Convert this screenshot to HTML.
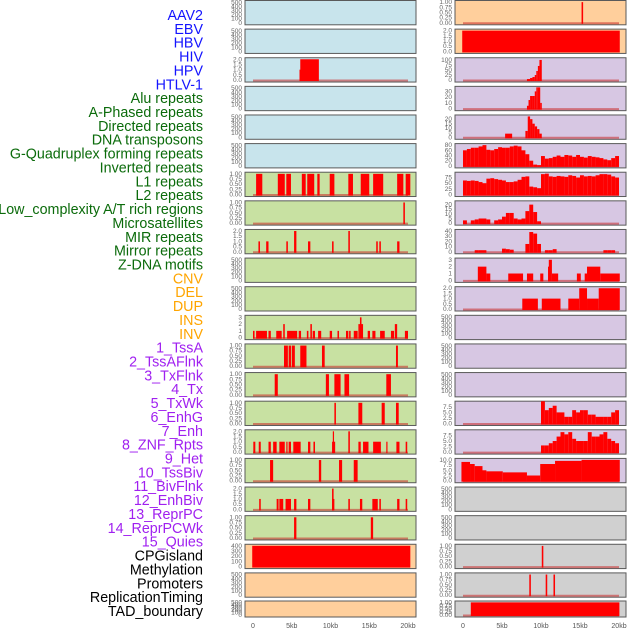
<!DOCTYPE html>
<html><head><meta charset="utf-8">
<style>
html,body{margin:0;padding:0;background:#fff;}
svg{display:block;font-family:"Liberation Sans",sans-serif;}
</style></head>
<body>
<svg id="chart" width="630" height="630" viewBox="0 0 630 630" xmlns="http://www.w3.org/2000/svg"></svg>
<script>
// ---------- data ----------
const labels = ["AAV2","EBV","HBV","HIV","HPV","HTLV-1","Alu repeats","A-Phased repeats","Directed repeats","DNA transposons","G-Quadruplex forming repeats","Inverted repeats","L1 repeats","L2 repeats","Low_complexity A/T rich regions","Microsatellites","MIR repeats","Mirror repeats","Z-DNA motifs","CNV","DEL","DUP","INS","INV","1_TssA","2_TssAFlnk","3_TxFlnk","4_Tx","5_TxWk","6_EnhG","7_Enh","8_ZNF_Rpts","9_Het","10_TssBiv","11_BivFlnk","12_EnhBiv","13_ReprPC","14_ReprPCWk","15_Quies","CPGisland","Methylation","Promoters","ReplicationTiming","TAD_boundary"];
const labelGroups = [6,13,5,15,5];
const groupColors = ["#1414ff","#0b6b0b","#ffa500","#a020f0","#000000"];

const xTickLabels = ["0","5kb","10kb","15kb","20kb"];
const xTickValues = [0,5,10,15,20];

const T500 = ["0","100","200","300","400","500"];
const T1 = ["0.00","0.25","0.50","0.75","1.00"];
const T2 = ["0.0","0.5","1.0","1.5","2.0"];

// segment data [startKb, endKb, value]
const segHBV = [[6.0,6.1,1],[6.1,8.5,2]];
const segL6 = [[0.4,1.2,1],[3.2,4.1,1],[4.3,4.9,1],[6.3,6.8,1],[7.0,7.9,1],[8.3,8.6,1],[9.9,10.5,1],[12.3,12.9,1],[13.9,15.0,1],[15.5,16.8,1],[18.6,19.4,1],[19.7,20.3,1]];
const segL7 = [[19.4,19.6,1]];
const segL8 = [[0.7,0.9,1],[1.7,2.0,1],[4.3,4.5,1],[5.3,5.6,2],[7.1,7.4,1],[10.2,10.4,1],[12.3,12.5,2],[15.9,16.1,1],[16.3,16.5,1],[18.6,18.9,1]];
const segL11 = [[0,0.2,1],[0.4,1.8,1],[2.0,2.3,1],[3.0,3.7,1],[3.9,4.1,2],[4.4,5.7,1],[5.9,6.2,1],[6.95,7.15,1],[7.4,7.6,2],[7.7,8.0,1],[8.4,8.8,1],[9.9,10.2,1],[10.9,11.1,1],[12.0,12.3,1],[12.4,12.6,1],[13.0,13.5,1],[13.6,13.8,2],[13.8,14.0,3],[14.0,14.2,2],[14.8,15.1,1],[15.4,15.8,1],[16.4,17.0,1],[17.8,18.2,1],[18.3,18.6,2],[19.6,20.0,1]];
const segL12 = [[4.0,4.5,1],[4.6,4.9,1],[5.0,5.4,1],[6.1,6.9,1],[8.9,9.25,1],[18.45,18.7,1]];
const segL13 = [[2.8,3.2,1],[9.4,9.8,1],[10.5,11.3,1],[11.8,12.4,1],[17.2,17.8,1]];
const segL14 = [[10.5,10.7,1],[13.6,14.1,1],[16.6,17.0,1],[18.45,18.8,1]];
const segL15 = [[0.04,0.3,1],[0.74,1.0,1],[2.0,2.3,1],[2.6,3.05,1],[3.4,4.1,1],[4.3,4.4,1],[4.6,4.9,1],[5.2,6.15,1],[7.1,7.4,1],[7.8,8.0,1],[10.2,10.6,1],[10.3,10.4,2],[12.3,12.5,2],[13.6,13.9,1],[14.2,14.9,1],[15.5,16.5,1],[17.2,17.3,1],[18.5,18.9,1],[19.7,19.9,1]];
const segL16 = [[2.2,2.6,1],[8.5,8.8,1],[11.1,11.5,1],[13.0,13.5,1]];
const segL17 = [[0.8,1.0,1],[3.05,3.3,1],[3.4,3.9,1],[4.2,4.9,1],[5.3,5.6,1],[7.1,7.4,1],[10.2,10.5,1],[10.2,10.4,2],[12.3,12.5,1],[13.8,14.1,1],[15.4,16.1,1],[16.3,16.5,1],[18.6,18.9,1],[19.7,19.9,1]];
const segL18 = [[5.3,5.6,1],[15.2,15.5,1]];
const segCNV = [[-0.1,20.3,400]];
const segINS = [[15.2,15.4,1]];
const segINV = [[-0.1,20.1,2]];
const segR2 = [[8.2,8.6,5],[8.6,8.9,10],[8.9,9.2,15],[9.2,9.4,25],[9.4,9.6,45],[9.6,9.8,70],[9.8,10.1,100]];
const segR3 = [[8.2,8.4,5],[8.4,8.6,15],[8.6,8.9,22],[8.9,9.2,22],[9.2,9.4,30],[9.4,9.6,37],[9.6,9.9,37],[9.9,10.1,10]];
const segR4 = [[5.4,6.3,4],[8.0,8.3,7],[8.3,8.6,23],[8.6,8.9,20],[8.9,9.2,15],[9.2,9.5,12],[9.5,9.8,9],[9.8,10.1,4]];
const segR9 = [[1.9,3.0,2],[3.0,3.5,1],[5.8,7.7,1],[8.2,9.0,1],[9.9,10.3,1],[10.9,11.0,2],[11.0,11.4,3],[11.4,12.2,1],[14.6,15.1,1],[15.6,15.9,1],[15.9,17.6,2],[17.6,20.1,1]];
const segR10 = [[7.6,9.6,1],[10.1,12.5,1],[13.5,14.9,1],[14.9,15.9,2],[15.9,17.4,1],[17.4,20.1,2]];
const segR16 = [[-0.2,0.9,9],[0.9,1.5,8],[1.5,2.5,7],[2.5,3.0,5],[3.0,5.1,4.5],[5.1,8.2,4],[8.2,9.9,2.5],[9.9,11.8,8],[11.8,15.2,9.5],[15.2,20.1,10]];
const segR19 = [[10.1,10.3,1]];
const segR20 = [[8.5,8.7,1],[10.6,10.8,1],[11.6,11.8,1]];
const segR21 = [[1.0,20.05,1]];

// binned data (0.5 kb bins starting at 0 kb)
const binR5 = [60,65,70,70,75,80,62,60,65,72,70,70,75,78,75,60,45,20,5,3,38,28,30,35,40,35,42,40,35,42,35,32,38,35,33,30,25,22,30,38];
const binR6 = [62,60,62,60,55,50,70,72,68,65,62,55,55,58,65,78,80,35,32,28,90,92,80,78,82,80,78,85,82,75,85,80,82,80,85,90,90,88,80,75];
const binR7 = [3,0,3,4,5,5,4,0,3,4,7,11,11,5,4,5,13,20,12,2,0,0,0,0,0,0,0,0,0,0,0,0,0,0,0,0,0,0,0,0];
const binR8 = [0,0,0,3,3,3,0,0,0,0,6,5,4,0,0,0,15,38,35,15,0,3,3,5,0,0,0,0,0,0,0,0,0,0,0,0,3,3,3,0];
const binR14 = [0,0,0,0,0,0,0,0,0,0,0,0,0,0,0,0,0,0,0,0,10,6,7,8,5,5,3,3,6,5,6,6,4,4,3,3,3,3,5,6];
const binR15 = [0,0,0,0,0,0,0,0,0,0,0,0,0,0,0,0,0,0,0,0,3,3,4,5,7,9,8,9,6,5,5,5,9,7,7,8,9,6,5,4];

// ---------- layout ----------
const BG = {blue:"#c8e4ec", green:"#c8e1a2", orange:"#ffcf9c", purple:"#d7c7e3", gray:"#d0d0d0"};
const tracks = [
 {c:0,r:0,bg:"blue",t:T500,tm:500,dm:520},
 {c:0,r:1,bg:"blue",t:T500,tm:500,dm:520},
 {c:0,r:2,bg:"blue",t:T2,tm:2,dm:2.05,s:segHBV},
 {c:0,r:3,bg:"blue",t:T500,tm:500,dm:520},
 {c:0,r:4,bg:"blue",t:T500,tm:500,dm:520},
 {c:0,r:5,bg:"blue",t:T500,tm:500,dm:520},
 {c:0,r:6,bg:"green",t:T1,tm:1,dm:1.03,s:segL6},
 {c:0,r:7,bg:"green",t:T1,tm:1,dm:1.03,s:segL7},
 {c:0,r:8,bg:"green",t:T2,tm:2,dm:2.05,s:segL8},
 {c:0,r:9,bg:"green",t:T500,tm:500,dm:520},
 {c:0,r:10,bg:"green",t:T500,tm:500,dm:520},
 {c:0,r:11,bg:"green",t:["0","1","2","3"],tm:3,dm:3.15,s:segL11},
 {c:0,r:12,bg:"green",t:T1,tm:1,dm:1.03,s:segL12},
 {c:0,r:13,bg:"green",t:T1,tm:1,dm:1.03,s:segL13},
 {c:0,r:14,bg:"green",t:T1,tm:1,dm:1.03,s:segL14},
 {c:0,r:15,bg:"green",t:T2,tm:2,dm:2.05,s:segL15},
 {c:0,r:16,bg:"green",t:T1,tm:1,dm:1.03,s:segL16},
 {c:0,r:17,bg:"green",t:T2,tm:2,dm:2.05,s:segL17},
 {c:0,r:18,bg:"green",t:T1,tm:1,dm:1.03,s:segL18},
 {c:0,r:19,bg:"orange",t:["0","100","200","300","400"],tm:400,dm:410,s:segCNV,nb:1},
 {c:0,r:20,bg:"orange",t:T500,tm:500,dm:520},
 {c:0,r:21,bg:"orange",t:T500,tm:500,dm:520},
 {c:1,r:0,bg:"orange",t:T1,tm:1,dm:1.03,s:segINS},
 {c:1,r:1,bg:"orange",t:T2,tm:2,dm:2.05,s:segINV,nb:1},
 {c:1,r:2,bg:"purple",t:["0","25","50","75","100"],tm:100,dm:106,s:segR2},
 {c:1,r:3,bg:"purple",t:["0","10","20","30"],tm:30,dm:37,s:segR3},
 {c:1,r:4,bg:"purple",t:["0","5","10","15","20"],tm:20,dm:23.5,s:segR4},
 {c:1,r:5,bg:"purple",t:["0","20","40","60","80"],tm:80,dm:82,b:binR5},
 {c:1,r:6,bg:"purple",t:["0","25","50","75"],tm:75,dm:94,b:binR6},
 {c:1,r:7,bg:"purple",t:["0","5","10","15","20"],tm:20,dm:23,b:binR7},
 {c:1,r:8,bg:"purple",t:["0","10","20","30","40"],tm:40,dm:41,b:binR8},
 {c:1,r:9,bg:"purple",t:["0","1","2","3"],tm:3,dm:3.1,s:segR9},
 {c:1,r:10,bg:"purple",t:T2,tm:2,dm:2.05,s:segR10},
 {c:1,r:11,bg:"purple",t:T500,tm:500,dm:520},
 {c:1,r:12,bg:"purple",t:T500,tm:500,dm:520},
 {c:1,r:13,bg:"purple",t:T500,tm:500,dm:520},
 {c:1,r:14,bg:"purple",t:["0.0","2.5","5.0","7.5"],tm:7.5,dm:9.6,b:binR14},
 {c:1,r:15,bg:"purple",t:["0.0","2.5","5.0","7.5"],tm:7.5,dm:9.6,b:binR15},
 {c:1,r:16,bg:"purple",t:["0.0","2.5","5.0","7.5","10.0"],tm:10,dm:10.2,s:segR16},
 {c:1,r:17,bg:"gray",t:T500,tm:500,dm:520},
 {c:1,r:18,bg:"gray",t:T500,tm:500,dm:520},
 {c:1,r:19,bg:"gray",t:T1,tm:1,dm:1.03,s:segR19},
 {c:1,r:20,bg:"gray",t:T1,tm:1,dm:1.03,s:segR20},
 {c:1,r:21,bg:"gray",t:T1,tm:1,dm:1.03,s:segR21,nb:0}
];

const NS = "http://www.w3.org/2000/svg";
const svg = document.getElementById("chart");
function mk(tag, attrs, parent){
  const e = document.createElementNS(NS, tag);
  for (const k in attrs) e.setAttribute(k, attrs[k]);
  (parent||svg).appendChild(e);
  return e;
}
const panelX = [245, 455];
const panelW = 171;
function xScale(c, kb){ return c===0 ? 253 + kb*7.75 : 463 + kb*7.8; }
function rowTop(r){ return r===21 ? 601 : r*28.62 + 0.5; }
function rowH(r){ return r===21 ? 16 : 24.3; }

// labels
let li = 0;
labelGroups.forEach((n,g)=>{
  for (let k=0;k<n;k++){
    const t = mk("text",{x:203,y:(20+li*13.86).toFixed(1),"text-anchor":"end","font-size":"14.3",fill:groupColors[g]});
    t.textContent = labels[li];
    
    
    li++;
  }
});

tracks.forEach(tr=>{
  const x0 = panelX[tr.c], top = rowTop(tr.r), h = rowH(tr.r), bottom = top + h;
  const y0 = bottom - 2, yTop = top + 1;
  const yScale = v => y0 - (v/tr.dm)*(y0 - yTop);
  const g = mk("g",{});
  
  
  const bg = mk("rect",{x:x0,y:top,width:panelW,height:h,fill:BG[tr.bg],stroke:"#5a5a5a","stroke-width":"1"},g);
  
  
  const n = tr.t.length;
  tr.t.forEach((lab,i)=>{
    const v = (tr.tm/(n-1))*i;
    const tt = mk("text",{x:x0-3,y:(yScale(v)+2).toFixed(1),"text-anchor":"end","font-size":"6.5",fill:"#666"},g);
    tt.textContent = lab;
    
    
  });
  const hasData = tr.s || tr.b;
  if (hasData && tr.nb !== 1){
    const bl = mk("line",{x1:xScale(tr.c,0),x2:xScale(tr.c,20),y1:y0+0.5,y2:y0+0.5,stroke:"rgba(200,40,40,0.55)","stroke-width":"2"},g);
    
    
  }
  const segs = tr.s ? tr.s : (tr.b ? tr.b.map((v,i)=>[i*0.5,i*0.5+0.5,v]) : []);
  segs.forEach(sg=>{
    if (sg[2] <= 0) return;
    const xa = xScale(tr.c, sg[0]), xb = xScale(tr.c, sg[1]);
    const ya = yScale(sg[2]);
    const b = mk("rect",{x:xa.toFixed(2),y:ya.toFixed(2),width:Math.max(1.2,xb-xa).toFixed(2),height:(y0-ya+1).toFixed(2),fill:"#ff0000"},g);
    
    
  });
});

// x axes
[0,1].forEach(c=>{
  xTickValues.forEach((v,i)=>{
    const t = mk("text",{x:xScale(c,v).toFixed(1),y:628,"text-anchor":"middle","font-size":"7",fill:"#555"});
    t.textContent = xTickLabels[i];
    
    
  });
});
</script>
</body></html>
